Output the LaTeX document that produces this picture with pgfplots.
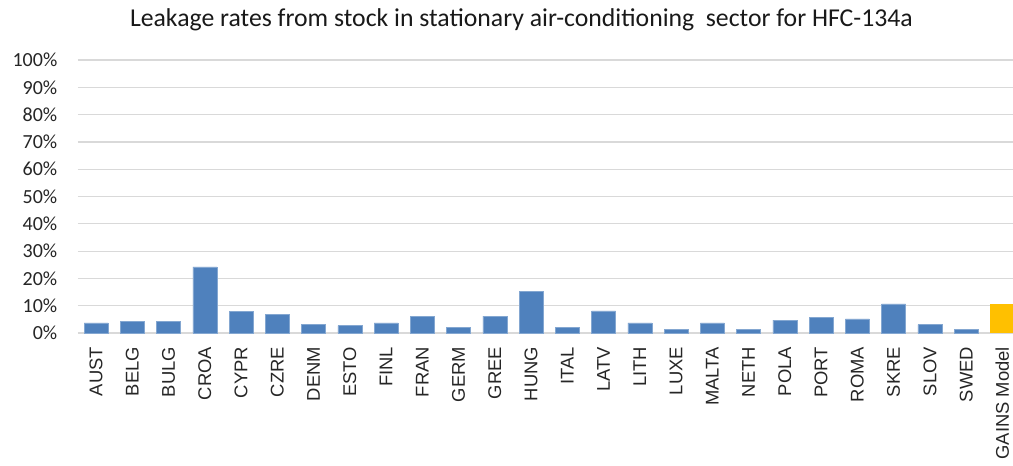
\documentclass[border=0pt]{standalone}
\usepackage{pgfplots}
\pgfplotsset{compat=1.18}
\usepackage{fontspec}
\setmainfont{Carlito}
\newfontfamily\arialfont{Liberation Sans}
\definecolor{barblue}{HTML}{4F81BD}
\definecolor{gainsorange}{HTML}{FFC000}
\definecolor{gridgray}{HTML}{D9D9D9}
\begin{document}
\begin{tikzpicture}[x=1pt,y=1pt]
\begin{axis}[
  scale only axis,
  width=706.9pt, height=204.75pt,
  xmin=-0.5, xmax=25.5,
  ymin=0, ymax=100,
  axis line style={draw=none},
  ytick={0,10,...,100},
  yticklabels={0\%,10\%,20\%,30\%,40\%,50\%,60\%,70\%,80\%,90\%,100\%},
  ymajorgrids, grid style={gridgray, line width=0.9pt},
  major tick length=0pt,
  xtick={0,...,25},
  xticklabels={AUST,BELG,BULG,CROA,CYPR,CZRE,DENM,ESTO,FINL,FRAN,GERM,GREE,HUNG,ITAL,LATV,LITH,LUXE,MALTA,NETH,POLA,PORT,ROMA,SKRE,SLOV,SWED,GAINS Model},
  xticklabel style={rotate=90, anchor=east, font=\arialfont\fontsize{13.8}{15}\selectfont, text=black!85, xshift=-7pt},
  yticklabel style={font=\fontsize{15}{17}\selectfont, text=black!85, xshift=-12pt},
  ybar, bar width=0.66, bar shift=0pt,
  clip=false,
]
\addplot[fill=barblue, draw=barblue!70!white, line width=0.4pt] coordinates {
(0,3.7) (1,4.2) (2,4.2) (3,24.2) (4,7.8) (5,6.7) (6,3.1) (7,2.7) (8,3.7) (9,6.2) (10,2.2) (11,6.2)
(12,15.2) (13,2.2) (14,8.1) (15,3.7) (16,1.2) (17,3.7) (18,1.2) (19,4.7) (20,5.7) (21,5.2) (22,10.7) (23,3.1) (24,1.2)
};
\addplot[fill=gainsorange, draw=none] coordinates {(25,10.5)};
\end{axis}
\node[anchor=base west, font=\fontsize{19.3}{21}\selectfont, text=black!90] at ([shift={(35.5pt,230pt)}]current axis.south west) {Leakage rates from stock in stationary air-conditioning~ sector for HFC-134a};
\pgfresetboundingbox
\path ([shift={(-58.5pt,-99pt)}]current axis.south west) rectangle ([shift={(701.25pt,249.75pt)}]current axis.south west);
\end{tikzpicture}
\end{document}
